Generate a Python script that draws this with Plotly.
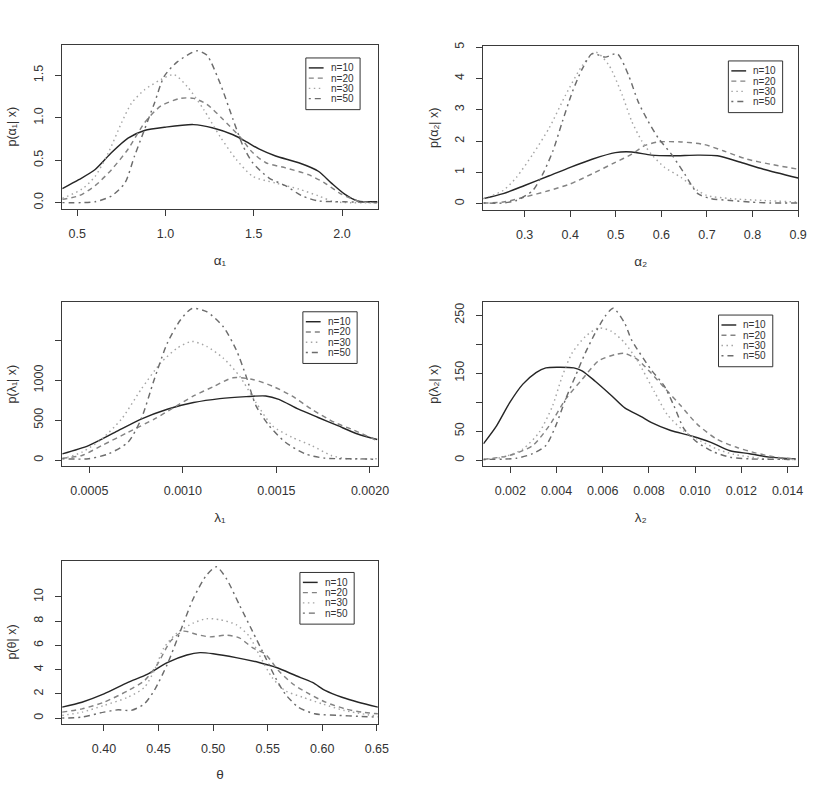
import plotly.graph_objects as go

W, H = 818, 807

# ---------------- data ----------------
series_names = ["n=10", "n=20", "n=30", "n=50"]

# Panel 1: alpha_1
alpha1_x_n10 = [0.416, 0.509, 0.602, 0.695, 0.788, 0.881, 1.0, 1.158, 1.27, 1.383, 1.457, 1.532, 1.624, 1.755, 1.866, 1.94, 2.015, 2.089, 2.2]
alpha1_y_n10 = [0.164, 0.27, 0.39, 0.59, 0.76, 0.85, 0.89, 0.92, 0.88, 0.80, 0.72, 0.63, 0.55, 0.47, 0.37, 0.23, 0.10, 0.02, 0.01]
alpha1_x_n20 = [0.416, 0.509, 0.602, 0.695, 0.788, 0.881, 0.974, 1.086, 1.16, 1.234, 1.327, 1.42, 1.494, 1.569, 1.68, 1.81, 1.903, 1.996, 2.089, 2.2]
alpha1_y_n20 = [0.04, 0.08, 0.2, 0.39, 0.63, 0.94, 1.14, 1.23, 1.23, 1.16, 0.98, 0.78, 0.59, 0.47, 0.41, 0.33, 0.23, 0.10, 0.02, 0.0]
alpha1_x_n30 = [0.416, 0.528, 0.602, 0.677, 0.751, 0.807, 0.881, 0.974, 1.048, 1.123, 1.216, 1.309, 1.401, 1.494, 1.625, 1.755, 1.866, 1.959, 2.2]
alpha1_y_n30 = [0.05, 0.16, 0.31, 0.59, 0.94, 1.17, 1.33, 1.45, 1.51, 1.37, 1.1, 0.78, 0.51, 0.31, 0.23, 0.16, 0.08, 0.01, 0.0]
alpha1_x_n50 = [0.416, 0.602, 0.695, 0.77, 0.825, 0.881, 0.937, 0.993, 1.067, 1.178, 1.234, 1.309, 1.383, 1.439, 1.494, 1.587, 1.68, 1.773, 1.866, 2.015, 2.2]
alpha1_y_n50 = [0.0, 0.01, 0.08, 0.23, 0.55, 0.86, 1.17, 1.49, 1.66, 1.79, 1.74, 1.41, 0.98, 0.67, 0.47, 0.29, 0.2, 0.08, 0.02, 0.01, 0.0]

# Panel 2: alpha_2
alpha2_x_n10 = [0.2096, 0.253, 0.3, 0.354, 0.4, 0.448, 0.499, 0.535, 0.578, 0.622, 0.68, 0.723, 0.774, 0.824, 0.9]
alpha2_y_n10 = [0.16, 0.32, 0.58, 0.89, 1.16, 1.42, 1.63, 1.65, 1.55, 1.53, 1.55, 1.53, 1.32, 1.1, 0.82]
alpha2_x_n20 = [0.2096, 0.253, 0.3, 0.354, 0.4, 0.448, 0.499, 0.535, 0.564, 0.593, 0.643, 0.694, 0.737, 0.788, 0.839, 0.9]
alpha2_y_n20 = [0.02, 0.05, 0.21, 0.42, 0.63, 0.95, 1.32, 1.58, 1.86, 1.97, 1.97, 1.89, 1.68, 1.42, 1.26, 1.1]
alpha2_x_n30 = [0.2096, 0.253, 0.282, 0.318, 0.354, 0.39, 0.427, 0.456, 0.485, 0.514, 0.535, 0.557, 0.578, 0.607, 0.643, 0.68, 0.7, 0.752, 0.824, 0.9]
alpha2_y_n30 = [0.16, 0.42, 0.84, 1.58, 2.42, 3.47, 4.42, 4.84, 4.42, 3.47, 2.63, 2.0, 1.58, 1.16, 0.84, 0.42, 0.26, 0.16, 0.1, 0.05]
alpha2_x_n50 = [0.2096, 0.253, 0.282, 0.318, 0.34, 0.362, 0.383, 0.405, 0.427, 0.448, 0.477, 0.503, 0.528, 0.549, 0.571, 0.593, 0.622, 0.651, 0.68, 0.709, 0.752, 0.795, 0.839, 0.9]
alpha2_y_n50 = [0.02, 0.02, 0.1, 0.42, 0.95, 1.68, 2.63, 3.58, 4.32, 4.79, 4.68, 4.79, 4.1, 3.26, 2.63, 2.1, 1.58, 0.95, 0.32, 0.16, 0.1, 0.05, 0.02, 0.02]

# Panel 3: lambda_1
lambda1_x_n10 = [0.000356, 0.000496, 0.000637, 0.000777, 0.000917, 0.001057, 0.001197, 0.001338, 0.001443, 0.001513, 0.001618, 0.001723, 0.001828, 0.001934, 0.002039]
lambda1_y_n10 = [78, 182, 348, 514, 638, 721, 771, 796, 804, 762, 638, 534, 431, 327, 257]
lambda1_x_n20 = [0.000356, 0.000461, 0.000567, 0.000707, 0.000847, 0.000952, 0.001057, 0.001162, 0.001268, 0.001373, 0.001478, 0.001583, 0.001688, 0.001811, 0.001899, 0.002039]
lambda1_y_n20 = [24, 58, 182, 348, 514, 659, 804, 920, 1032, 1011, 928, 804, 638, 472, 389, 244]
lambda1_x_n30 = [0.000356, 0.000461, 0.000567, 0.000672, 0.000777, 0.000882, 0.00097, 0.001049, 0.001127, 0.001215, 0.001303, 0.001391, 0.001478, 0.001583, 0.001688, 0.001793, 0.001881, 0.002039]
lambda1_y_n30 = [16, 99, 265, 514, 887, 1219, 1405, 1488, 1426, 1281, 1053, 721, 431, 286, 182, 58, 16, 16]
lambda1_x_n50 = [0.000356, 0.000496, 0.000602, 0.000707, 0.000777, 0.000847, 0.000917, 0.000987, 0.001049, 0.001127, 0.001215, 0.001285, 0.001338, 0.001391, 0.001461, 0.001548, 0.001653, 0.001758, 0.001934, 0.002039]
lambda1_y_n50 = [16, 16, 78, 223, 514, 1011, 1467, 1757, 1902, 1861, 1675, 1384, 1053, 680, 431, 223, 78, 24, 16, 8]

# Panel 4: lambda_2
lambda2_x_n10 = [0.000835, 0.001404, 0.001973, 0.002543, 0.003112, 0.003538, 0.004108, 0.004748, 0.005104, 0.005673, 0.006384, 0.006953, 0.007665, 0.008092, 0.008945, 0.009799, 0.010653, 0.011507, 0.01236, 0.013214, 0.014352]
lambda2_y_n10 = [28, 59, 99, 131, 151, 159, 160, 159, 154, 136, 111, 90, 75, 65, 51, 42, 31, 16, 11, 5, 2]
lambda2_x_n20 = [0.000835, 0.001973, 0.002969, 0.003681, 0.004392, 0.005104, 0.005815, 0.006527, 0.006953, 0.007522, 0.008092, 0.008661, 0.009373, 0.010084, 0.010938, 0.011791, 0.012645, 0.013498, 0.014352]
lambda2_y_n20 = [1, 8, 25, 59, 105, 139, 171, 182, 184, 173, 150, 125, 94, 62, 36, 22, 12, 5, 2]
lambda2_x_n30 = [0.000835, 0.001689, 0.002543, 0.003254, 0.003823, 0.00425, 0.004677, 0.005246, 0.005815, 0.006384, 0.006953, 0.007522, 0.008235, 0.008804, 0.009516, 0.010228, 0.01094, 0.011651, 0.013075, 0.014352]
lambda2_y_n30 = [1, 5, 19, 48, 93, 145, 185, 213, 228, 222, 202, 170, 118, 78, 50, 33, 19, 10, 2, 1]
lambda2_x_n50 = [0.000835, 0.002258, 0.002969, 0.003538, 0.003965, 0.004392, 0.004819, 0.005246, 0.005673, 0.0061, 0.006455, 0.006953, 0.007238, 0.008092, 0.008661, 0.009088, 0.009515, 0.010084, 0.010795, 0.011507, 0.01236, 0.014352]
lambda2_y_n50 = [1, 3, 11, 25, 59, 105, 145, 185, 219, 248, 262, 236, 208, 156, 128, 93, 54, 31, 14, 5, 2, 1]

# Panel 5: theta
theta_x_n10 = [0.3617, 0.3798, 0.40, 0.422, 0.44, 0.458, 0.476, 0.488, 0.5, 0.521, 0.542, 0.558, 0.576, 0.591, 0.603, 0.618, 0.633, 0.651]
theta_y_n10 = [0.9, 1.31, 1.99, 2.94, 3.62, 4.58, 5.21, 5.4, 5.31, 4.99, 4.58, 4.17, 3.49, 2.94, 2.26, 1.72, 1.31, 0.9]
theta_x_n20 = [0.3617, 0.38, 0.40, 0.422, 0.437, 0.449, 0.461, 0.473, 0.485, 0.497, 0.512, 0.524, 0.536, 0.548, 0.56, 0.573, 0.588, 0.603, 0.621, 0.636, 0.651]
theta_y_n20 = [0.49, 0.76, 1.31, 2.26, 3.08, 4.44, 6.35, 7.17, 6.9, 6.7, 6.84, 6.62, 5.81, 5.26, 3.9, 2.81, 1.99, 1.31, 0.76, 0.49, 0.35]
theta_x_n30 = [0.3617, 0.38, 0.40, 0.422, 0.437, 0.446, 0.455, 0.467, 0.482, 0.494, 0.506, 0.521, 0.533, 0.542, 0.554, 0.566, 0.582, 0.6, 0.62, 0.651]
theta_y_n30 = [0.22, 0.49, 1.04, 1.72, 2.53, 3.9, 5.81, 7.03, 7.85, 8.2, 8.12, 7.71, 6.76, 5.26, 3.35, 2.26, 1.72, 1.17, 0.63, 0.14]
theta_x_n50 = [0.3617, 0.38, 0.40, 0.413, 0.425, 0.437, 0.446, 0.458, 0.47, 0.482, 0.494, 0.503, 0.512, 0.524, 0.536, 0.548, 0.557, 0.566, 0.578, 0.593, 0.615, 0.633, 0.651]
theta_y_n50 = [0.0, 0.08, 0.49, 0.68, 0.63, 1.17, 2.26, 4.44, 7.17, 9.89, 11.8, 12.48, 11.53, 9.35, 7.17, 4.99, 3.35, 1.99, 0.9, 0.35, 0.22, 0.14, 0.08]

# tick labels (labelled ticks) and unlabelled tick positions
alpha1_xticks = [0.5, 1.0, 1.5, 2.0]
alpha1_xticktext = ["0.5", "1.0", "1.5", "2.0"]
alpha1_yticks = [0.0, 0.5, 1.0, 1.5]
alpha1_yticktext = ["0.0", "0.5", "1.0", "1.5"]
alpha2_xticks = [0.3, 0.4, 0.5, 0.6, 0.7, 0.8, 0.9]
alpha2_xticktext = ["0.3", "0.4", "0.5", "0.6", "0.7", "0.8", "0.9"]
alpha2_yticks = [0, 1, 2, 3, 4, 5]
alpha2_yticktext = ["0", "1", "2", "3", "4", "5"]
lambda1_xticks = [0.0005, 0.0010, 0.0015, 0.0020]
lambda1_xticktext = ["0.0005", "0.0010", "0.0015", "0.0020"]
lambda1_yticks = [0, 500, 1000]
lambda1_yticktext = ["0", "500", "1000"]
lambda1_yticks_unlabelled = [1500]
lambda2_xticks = [0.002, 0.004, 0.006, 0.008, 0.010, 0.012, 0.014]
lambda2_xticktext = ["0.002", "0.004", "0.006", "0.008", "0.010", "0.012", "0.014"]
lambda2_yticks = [0, 50, 150, 250]
lambda2_yticktext = ["0", "50", "150", "250"]
lambda2_yticks_unlabelled = [100, 200]
theta_xticks = [0.40, 0.45, 0.50, 0.55, 0.60, 0.65]
theta_xticktext = ["0.40", "0.45", "0.50", "0.55", "0.60", "0.65"]
theta_yticks = [0, 2, 4, 6, 8, 10]
theta_yticktext = ["0", "2", "4", "6", "8", "10"]

# ---------------- styling / layout ----------------
styles = {
    "n=10": dict(color="#262626", dash="solid"),
    "n=20": dict(color="#838383", dash="5px,4px"),
    "n=30": dict(color="#a5a5a5", dash="1.5px,3.5px"),
    "n=50": dict(color="#6c6c6c", dash="2px,4px,6px,4px"),
}
FONT = "Liberation Sans, DejaVu Sans, Arial, sans-serif"

panels = [
    dict(curves=[(alpha1_x_n10, alpha1_y_n10), (alpha1_x_n20, alpha1_y_n20), (alpha1_x_n30, alpha1_y_n30), (alpha1_x_n50, alpha1_y_n50)],
         xr=[0.415, 2.203], yr=[-0.072, 1.862],
         xt=(alpha1_xticks, alpha1_xticktext), yt=(alpha1_yticks, alpha1_yticktext), yminor=None,
         xtitle="α₁", ytitle="p(α₁| x)",
         box=(63, 383, 41, 206), leg=(310, 54.3)),
    dict(curves=[(alpha2_x_n10, alpha2_y_n10), (alpha2_x_n20, alpha2_y_n20), (alpha2_x_n30, alpha2_y_n30), (alpha2_x_n50, alpha2_y_n50)],
         xr=[0.2096, 0.9], yr=[-0.194, 5.044],
         xt=(alpha2_xticks, alpha2_xticktext), yt=(alpha2_yticks, alpha2_yticktext), yminor=None,
         xtitle="α₂", ytitle="p(α₂| x)",
         box=(490, 809, 42, 207), leg=(738.3, 57.3)),
    dict(curves=[(lambda1_x_n10, lambda1_y_n10), (lambda1_x_n20, lambda1_y_n20), (lambda1_x_n30, lambda1_y_n30), (lambda1_x_n50, lambda1_y_n50)],
         xr=[0.000355, 0.002042], yr=[-76, 1981],
         xt=(lambda1_xticks, lambda1_xticktext), yt=(lambda1_yticks, lambda1_yticktext), yminor=lambda1_yticks_unlabelled,
         xtitle="λ₁", ytitle="p(λ₁| x)",
         box=(63, 383, 300, 465), leg=(307, 309.7)),
    dict(curves=[(lambda2_x_n10, lambda2_y_n10), (lambda2_x_n20, lambda2_y_n20), (lambda2_x_n30, lambda2_y_n30), (lambda2_x_n50, lambda2_y_n50)],
         xr=[0.000835, 0.014457], yr=[-10.5, 272.5],
         xt=(lambda2_xticks, lambda2_xticktext), yt=(lambda2_yticks, lambda2_yticktext), yminor=lambda2_yticks_unlabelled,
         xtitle="λ₂", ytitle="p(λ₂| x)",
         box=(490, 809, 300, 465), leg=(728.3, 313)),
    dict(curves=[(theta_x_n10, theta_y_n10), (theta_x_n20, theta_y_n20), (theta_x_n30, theta_y_n30), (theta_x_n50, theta_y_n50)],
         xr=[0.3617, 0.6509], yr=[-0.45, 13.0],
         xt=(theta_xticks, theta_xticktext), yt=(theta_yticks, theta_yticktext), yminor=None,
         xtitle="θ", ytitle="p(θ| x)",
         box=(63, 383, 560, 724), leg=(304, 572)),
]

fig = go.Figure()
layout = dict(
    width=W, height=H, margin=dict(l=0, r=0, t=0, b=0),
    paper_bgcolor="white", plot_bgcolor="white", showlegend=False,
    font=dict(family=FONT, color="#333333"),
)
shapes, annotations = [], []

for i, p in enumerate(panels):
    s = "" if i == 0 else str(i + 1)
    for name, (xs, ys) in zip(series_names, p["curves"]):
        st = styles[name]
        fig.add_trace(go.Scatter(
            x=xs, y=ys, mode="lines", name=name, showlegend=False,
            line=dict(color=st["color"], dash=st["dash"], width=1.45, shape="spline", smoothing=0.7),
            xaxis="x" + s, yaxis="y" + s, hoverinfo="skip"))
    l, r, t, b = p["box"]
    common = dict(showline=True, mirror=True, linecolor="#3a3a3a", linewidth=1,
                  ticks="outside", ticklen=6, tickwidth=1, tickcolor="#3a3a3a",
                  showgrid=False, zeroline=False,
                  tickfont=dict(family=FONT, size=12.5, color="#333333"))
    layout["xaxis" + s] = dict(common, domain=[l / W, r / W], anchor="y" + s, range=p["xr"],
                               tickmode="array", tickvals=p["xt"][0], ticktext=p["xt"][1],
                               ticklabelstandoff=7,
                               title=dict(text=p["xtitle"], standoff=15,
                                          font=dict(family=FONT, size=13.5, color="#333333")))
    ydict = dict(common, domain=[1 - b / H, 1 - t / H], anchor="x" + s, range=p["yr"],
                 tickmode="array", tickvals=p["yt"][0], ticktext=p["yt"][1],
                 tickangle=-90, ticklabelstandoff=7,
                 title=dict(text=p["ytitle"], standoff=12,
                            font=dict(family=FONT, size=12.5, color="#333333")))
    if p["yminor"]:
        ydict["minor"] = dict(tickmode="array", tickvals=p["yminor"], ticks="outside",
                              ticklen=6, tickwidth=1, tickcolor="#3a3a3a", showgrid=False)
    layout["yaxis" + s] = ydict
    # legend box drawn in R style
    lx, ty = p["leg"]
    lw, lh = 55, 52
    shapes.append(dict(type="rect", xref="paper", yref="paper",
                       x0=lx / W, x1=(lx + lw) / W, y0=1 - (ty + lh) / H, y1=1 - ty / H,
                       line=dict(color="#333333", width=1), fillcolor="white", layer="above"))
    for k, name in enumerate(series_names):
        st = styles[name]
        ry = ty + 10 + 10.3 * k
        shapes.append(dict(type="line", xref="paper", yref="paper",
                           x0=(lx + 3) / W, x1=(lx + 18) / W, y0=1 - ry / H, y1=1 - ry / H,
                           line=dict(color=st["color"], dash=st["dash"], width=1.45), layer="above"))
        annotations.append(dict(text=name, xref="paper", yref="paper",
                                x=(lx + 23) / W, y=1 - ry / H, xanchor="left", yanchor="middle",
                                showarrow=False, font=dict(family=FONT, size=10, color="#333333")))

layout["shapes"] = shapes
layout["annotations"] = annotations
fig.update_layout(**layout)
fig.write_html("out.html")
